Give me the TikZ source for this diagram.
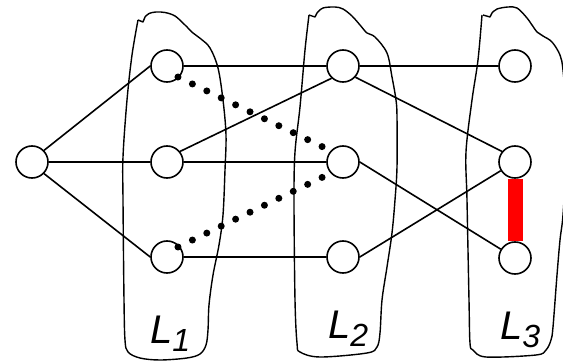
\documentclass[tikz,border=0pt]{standalone}
\usepackage{fontspec}
\newfontfamily\arialf{Liberation Sans}
\begin{document}
\begin{tikzpicture}[x=1pt,y=-1pt,
  vert/.style={circle,draw,line width=1.6pt,minimum size=32pt,inner sep=0pt,fill=white},
  edge/.style={line width=1.6pt},
  dotline/.style={line width=7pt,line cap=round,dash pattern=on 0pt off 16pt},
  blob/.style={line width=1.4pt,line join=round},
  lab/.style={anchor=base west,inner sep=0pt,font=\arialf\itshape\fontsize{40}{40}\selectfont},
  badedge/.style={line width=15pt,draw=red}]
\useasboundingbox (0,0) rectangle (563,361);
\clip (0,0) rectangle (563,361);
% blobs
\draw[blob] (138,20) -- (143,22) -- (145,17);
\draw[blob] plot[smooth,tension=0.55] coordinates {(145,17) (149,13.5) (156,12) (165,12.5) (175,16) (185,25) (193,33) (201,39) (210,48) (218,68) (223,100) (226,135) (225,170) (223,215) (219,245) (213,275) (209,305) (208,330) (206,345) (200,354) (187,358) (160,360) (140,358) (128,352) (125,340) (124,300) (123,200) (123,157) (127,100) (132,55) (138,20)};
\draw[blob] (309,15) -- (315,17) -- (317,13);
\draw[blob] plot[smooth,tension=0.55] coordinates {(317,13) (323,8) (335,7) (343,9) (352,16) (360,25) (367,33) (375,37) (387,53) (392,77) (396,100) (397,117) (397,167) (395,200) (392,233) (387,267) (382,300) (380,333) (377,347) (367,353) (320,357) (300,352) (297,343) (295,300) (294,200) (295,152) (300,107) (305,50) (309,15)};
\draw[blob] (483,15) -- (490,17) -- (492,13);
\draw[blob] plot[smooth,tension=0.55] coordinates {(492,13) (497,9) (508,7) (517,8) (527,18) (537,32) (543,36) (552,42) (560,55) (563,70) (566,110) (566,160) (563,215) (560,240) (557,275) (553,327) (551,340) (546,350) (536,355) (486,357) (473,350) (470,343) (469,300) (467,200) (466,152) (472,100) (478,60) (482,15)};
% nodes
\node[vert] (r) at (32,162) {};
\node[vert] (a1) at (167,66) {};
\node[vert] (b1) at (167,162) {};
\node[vert] (c1) at (167,257) {};
\node[vert] (a2) at (343,66) {};
\node[vert] (b2) at (343,162) {};
\node[vert] (c2) at (343,257) {};
\node[vert] (a3) at (515,66) {};
\node[vert] (b3) at (515,162) {};
\node[vert] (c3) at (515,258) {};
% edges
\draw[edge] (r.44) -- (a1.west);
\draw[edge] (r) -- (b1);
\draw[edge] (r.-44) -- (c1.west);
\draw[edge] (a1) -- (a2);
\draw[edge] (b1) -- (b2);
\draw[edge] (c1) -- (c2);
\draw[edge] (b1.39) -- (a2.227);
\draw[edge] (a2) -- (a3);
\draw[edge] (a2.-42) -- (b3.141);
\draw[edge] (b2.east) -- (c3);
\draw[edge] (c2.east) -- (b3);
\draw[dotline,shorten <=12.2pt,shorten >=22.2pt] ([yshift=-5.7pt]a1.center) -- ([yshift=5.3pt]b2.center);
\draw[dotline,shorten <=12.2pt,shorten >=22.2pt] ([yshift=4.7pt]c1.center) -- ([yshift=-5.3pt]b2.center);
\draw[badedge] (b3.south) -- (c3.north);
% labels
\node[lab] (l1) at (150,343) {L\raisebox{-8pt}{\fontsize{32}{32}\selectfont 1}};
\node[lab] (l2) at (328,338) {L\raisebox{-8pt}{\fontsize{32}{32}\selectfont 2}};
\node[lab] (l3) at (500,339) {L\raisebox{-8pt}{\fontsize{32}{32}\selectfont 3}};
\end{tikzpicture}
\end{document}
